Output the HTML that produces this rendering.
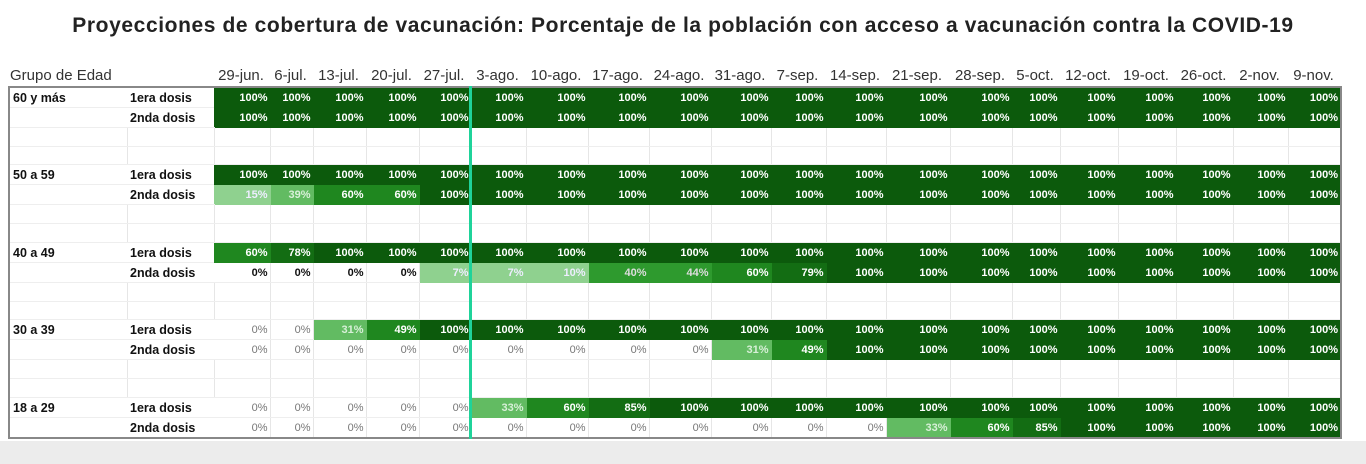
<!DOCTYPE html>
<html><head><meta charset="utf-8"><style>
body{margin:0;width:1366px;height:464px;background:#fff;font-family:"Liberation Sans",sans-serif;position:relative;overflow:hidden}
.bot{position:absolute;left:0;top:441px;width:1366px;height:23px;background:#ececec}
h1{position:absolute;top:14px;left:0;width:1366px;text-align:center;margin:0;font-size:21px;letter-spacing:0.6px;font-weight:bold;color:#222}
.hdr{position:absolute;top:67px;left:8px;font-size:15px;color:#333;white-space:nowrap}
.hdr span{position:absolute;top:0;text-align:center}
table{position:absolute;left:8px;top:86px;border-collapse:collapse;table-layout:fixed;border:2px solid #888}
td{padding:0 2px 0 0;font-size:11px;font-weight:bold;text-align:right;border-right:1px solid #e6e6e6;border-bottom:1px solid #eee;white-space:nowrap;overflow:hidden;color:#666}
td.l{text-align:left;font-size:12.5px;color:#111;padding-left:3px;border-right:none}
tr.d td{height:19px}
tr.e td{height:18px}
tr.e2 td{height:17px}
.a{background:#0c5a0c;color:#fff;border-color:#0c5a0c}
.b{background:#136d13;color:#fff;border-color:#136d13}
.c{background:#1f871f;color:#fff;border-color:#1f871f}
.f{background:#2e9a2e;color:#ddd;border-color:#2e9a2e}
.g{background:#62bb62;color:#d8f0d8;border-color:#62bb62}
.h{background:#8fd18f;color:#eef;border-color:#8fd18f}
.z{color:#111}
.n{font-weight:normal;color:#777}
.vl{position:absolute;left:469px;top:86px;width:3px;height:353px;background:#1fd39a}
</style></head><body>
<h1>Proyecciones de cobertura de vacunación: Porcentaje de la población con acceso a vacunación contra la COVID-19</h1>
<div class="hdr">
<span style="left:2px;text-align:left">Grupo de Edad</span>
<span style="left:205px;width:56px">29-jun.</span><span style="left:261px;width:43px">6-jul.</span><span style="left:304px;width:53px">13-jul.</span><span style="left:357px;width:53px">20-jul.</span><span style="left:410px;width:52px">27-jul.</span><span style="left:462px;width:55px">3-ago.</span><span style="left:517px;width:62px">10-ago.</span><span style="left:579px;width:61px">17-ago.</span><span style="left:640px;width:62px">24-ago.</span><span style="left:702px;width:60px">31-ago.</span><span style="left:762px;width:55px">7-sep.</span><span style="left:817px;width:60px">14-sep.</span><span style="left:877px;width:64px">21-sep.</span><span style="left:941px;width:62px">28-sep.</span><span style="left:1003px;width:48px">5-oct.</span><span style="left:1051px;width:58px">12-oct.</span><span style="left:1109px;width:58px">19-oct.</span><span style="left:1167px;width:57px">26-oct.</span><span style="left:1224px;width:55px">2-nov.</span><span style="left:1279px;width:53px">9-nov.</span>
</div>
<table>
<colgroup><col style="width:118px"><col style="width:87px"><col style="width:56px"><col style="width:43px"><col style="width:53px"><col style="width:53px"><col style="width:52px"><col style="width:55px"><col style="width:62px"><col style="width:61px"><col style="width:62px"><col style="width:60px"><col style="width:55px"><col style="width:60px"><col style="width:64px"><col style="width:62px"><col style="width:48px"><col style="width:58px"><col style="width:58px"><col style="width:57px"><col style="width:55px"><col style="width:53px"></colgroup>
<tr class="d"><td class="l">60 y más</td><td class="l">1era dosis</td><td class="a">100%</td><td class="a">100%</td><td class="a">100%</td><td class="a">100%</td><td class="a">100%</td><td class="a">100%</td><td class="a">100%</td><td class="a">100%</td><td class="a">100%</td><td class="a">100%</td><td class="a">100%</td><td class="a">100%</td><td class="a">100%</td><td class="a">100%</td><td class="a">100%</td><td class="a">100%</td><td class="a">100%</td><td class="a">100%</td><td class="a">100%</td><td class="a">100%</td></tr>
<tr class="d"><td class="l"></td><td class="l">2nda dosis</td><td class="a">100%</td><td class="a">100%</td><td class="a">100%</td><td class="a">100%</td><td class="a">100%</td><td class="a">100%</td><td class="a">100%</td><td class="a">100%</td><td class="a">100%</td><td class="a">100%</td><td class="a">100%</td><td class="a">100%</td><td class="a">100%</td><td class="a">100%</td><td class="a">100%</td><td class="a">100%</td><td class="a">100%</td><td class="a">100%</td><td class="a">100%</td><td class="a">100%</td></tr>
<tr class="e"><td></td><td></td><td></td><td></td><td></td><td></td><td></td><td></td><td></td><td></td><td></td><td></td><td></td><td></td><td></td><td></td><td></td><td></td><td></td><td></td><td></td><td></td></tr>
<tr class="e2"><td></td><td></td><td></td><td></td><td></td><td></td><td></td><td></td><td></td><td></td><td></td><td></td><td></td><td></td><td></td><td></td><td></td><td></td><td></td><td></td><td></td><td></td></tr>
<tr class="d"><td class="l">50 a 59</td><td class="l">1era dosis</td><td class="a">100%</td><td class="a">100%</td><td class="a">100%</td><td class="a">100%</td><td class="a">100%</td><td class="a">100%</td><td class="a">100%</td><td class="a">100%</td><td class="a">100%</td><td class="a">100%</td><td class="a">100%</td><td class="a">100%</td><td class="a">100%</td><td class="a">100%</td><td class="a">100%</td><td class="a">100%</td><td class="a">100%</td><td class="a">100%</td><td class="a">100%</td><td class="a">100%</td></tr>
<tr class="d"><td class="l"></td><td class="l">2nda dosis</td><td class="h">15%</td><td class="g">39%</td><td class="c">60%</td><td class="c">60%</td><td class="a">100%</td><td class="a">100%</td><td class="a">100%</td><td class="a">100%</td><td class="a">100%</td><td class="a">100%</td><td class="a">100%</td><td class="a">100%</td><td class="a">100%</td><td class="a">100%</td><td class="a">100%</td><td class="a">100%</td><td class="a">100%</td><td class="a">100%</td><td class="a">100%</td><td class="a">100%</td></tr>
<tr class="e"><td></td><td></td><td></td><td></td><td></td><td></td><td></td><td></td><td></td><td></td><td></td><td></td><td></td><td></td><td></td><td></td><td></td><td></td><td></td><td></td><td></td><td></td></tr>
<tr class="e"><td></td><td></td><td></td><td></td><td></td><td></td><td></td><td></td><td></td><td></td><td></td><td></td><td></td><td></td><td></td><td></td><td></td><td></td><td></td><td></td><td></td><td></td></tr>
<tr class="d"><td class="l">40 a 49</td><td class="l">1era dosis</td><td class="c">60%</td><td class="b">78%</td><td class="a">100%</td><td class="a">100%</td><td class="a">100%</td><td class="a">100%</td><td class="a">100%</td><td class="a">100%</td><td class="a">100%</td><td class="a">100%</td><td class="a">100%</td><td class="a">100%</td><td class="a">100%</td><td class="a">100%</td><td class="a">100%</td><td class="a">100%</td><td class="a">100%</td><td class="a">100%</td><td class="a">100%</td><td class="a">100%</td></tr>
<tr class="d"><td class="l"></td><td class="l">2nda dosis</td><td class="z">0%</td><td class="z">0%</td><td class="z">0%</td><td class="z">0%</td><td class="h">7%</td><td class="h">7%</td><td class="h">10%</td><td class="f">40%</td><td class="f">44%</td><td class="c">60%</td><td class="b">79%</td><td class="a">100%</td><td class="a">100%</td><td class="a">100%</td><td class="a">100%</td><td class="a">100%</td><td class="a">100%</td><td class="a">100%</td><td class="a">100%</td><td class="a">100%</td></tr>
<tr class="e"><td></td><td></td><td></td><td></td><td></td><td></td><td></td><td></td><td></td><td></td><td></td><td></td><td></td><td></td><td></td><td></td><td></td><td></td><td></td><td></td><td></td><td></td></tr>
<tr class="e2"><td></td><td></td><td></td><td></td><td></td><td></td><td></td><td></td><td></td><td></td><td></td><td></td><td></td><td></td><td></td><td></td><td></td><td></td><td></td><td></td><td></td><td></td></tr>
<tr class="d"><td class="l">30 a 39</td><td class="l">1era dosis</td><td class="n">0%</td><td class="n">0%</td><td class="g">31%</td><td class="c">49%</td><td class="a">100%</td><td class="a">100%</td><td class="a">100%</td><td class="a">100%</td><td class="a">100%</td><td class="a">100%</td><td class="a">100%</td><td class="a">100%</td><td class="a">100%</td><td class="a">100%</td><td class="a">100%</td><td class="a">100%</td><td class="a">100%</td><td class="a">100%</td><td class="a">100%</td><td class="a">100%</td></tr>
<tr class="d"><td class="l"></td><td class="l">2nda dosis</td><td class="n">0%</td><td class="n">0%</td><td class="n">0%</td><td class="n">0%</td><td class="n">0%</td><td class="n">0%</td><td class="n">0%</td><td class="n">0%</td><td class="n">0%</td><td class="g">31%</td><td class="c">49%</td><td class="a">100%</td><td class="a">100%</td><td class="a">100%</td><td class="a">100%</td><td class="a">100%</td><td class="a">100%</td><td class="a">100%</td><td class="a">100%</td><td class="a">100%</td></tr>
<tr class="e"><td></td><td></td><td></td><td></td><td></td><td></td><td></td><td></td><td></td><td></td><td></td><td></td><td></td><td></td><td></td><td></td><td></td><td></td><td></td><td></td><td></td><td></td></tr>
<tr class="e"><td></td><td></td><td></td><td></td><td></td><td></td><td></td><td></td><td></td><td></td><td></td><td></td><td></td><td></td><td></td><td></td><td></td><td></td><td></td><td></td><td></td><td></td></tr>
<tr class="d"><td class="l">18 a 29</td><td class="l">1era dosis</td><td class="n">0%</td><td class="n">0%</td><td class="n">0%</td><td class="n">0%</td><td class="n">0%</td><td class="g">33%</td><td class="c">60%</td><td class="b">85%</td><td class="a">100%</td><td class="a">100%</td><td class="a">100%</td><td class="a">100%</td><td class="a">100%</td><td class="a">100%</td><td class="a">100%</td><td class="a">100%</td><td class="a">100%</td><td class="a">100%</td><td class="a">100%</td><td class="a">100%</td></tr>
<tr class="d"><td class="l"></td><td class="l">2nda dosis</td><td class="n">0%</td><td class="n">0%</td><td class="n">0%</td><td class="n">0%</td><td class="n">0%</td><td class="n">0%</td><td class="n">0%</td><td class="n">0%</td><td class="n">0%</td><td class="n">0%</td><td class="n">0%</td><td class="n">0%</td><td class="g">33%</td><td class="c">60%</td><td class="b">85%</td><td class="a">100%</td><td class="a">100%</td><td class="a">100%</td><td class="a">100%</td><td class="a">100%</td></tr>
</table>
<div class="vl"></div>
<div class="bot"></div>
</body></html>
